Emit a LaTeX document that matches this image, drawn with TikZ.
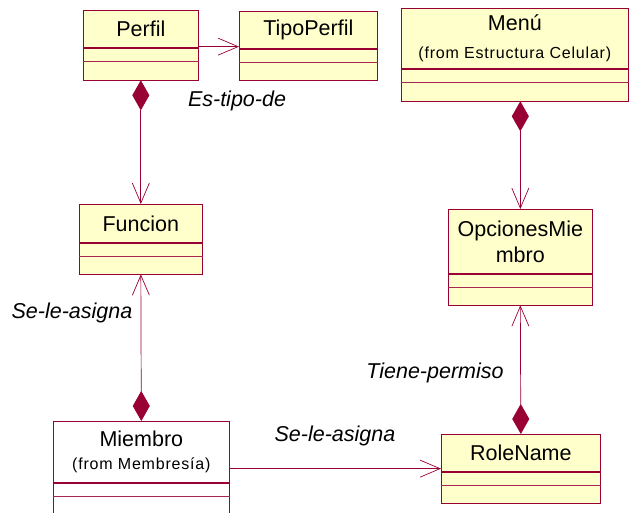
\documentclass[tikz,border=0pt]{standalone}
\usepackage{fontspec}
\setmainfont{Liberation Sans}
\newfontfamily\fromfont[LetterSpace=5]{Liberation Sans}
\usetikzlibrary{arrows.meta,positioning}

\definecolor{rosered}{HTML}{990033}
\definecolor{roseyellow}{HTML}{FFFFCC}

\tikzset{
  classname/.style={draw=rosered, fill=roseyellow, line width=0.65pt, inner sep=0pt,
    align=center, anchor=north west, font=\fontsize{21.5}{26}\selectfont},
  classbody/.style={draw=rosered, fill=roseyellow, line width=0.65pt, inner sep=0pt, anchor=north},
  divider/.style={draw=rosered!85, line width=0.5pt},
  assoc/.style={draw=rosered, line width=0.7pt},
  navig/.style={assoc, -{Straight Barb[length=20pt, width=17pt, line width=0.7pt]}},
  compos/.style={assoc, {Diamond[length=30pt, width=17pt, fill=rosered]}-{Straight Barb[length=20pt, width=17pt, line width=0.7pt]}},
  rolelabel/.style={font=\fontsize{21.5}{26}\selectfont\itshape}
}

\begin{document}
\begin{tikzpicture}[x=1pt, y=-1pt]
  \path[fill=white, use as bounding box] (0,0) rectangle (629,513);

  % Perfil
  \node[classname, minimum width=115pt, minimum height=37pt] (perfil) at (83,10) {Perfil};
  \node[classbody, minimum width=115pt, minimum height=32pt] (perfil-body) at (perfil.south) {};
  \draw[divider] ([yshift=-14pt]perfil-body.north west) -- ([yshift=-14pt]perfil-body.north east);

  % TipoPerfil
  \node[classname, minimum width=138pt, minimum height=37pt] (tipo) at (239,11) {TipoPerfil};
  \node[classbody, minimum width=138pt, minimum height=31pt] (tipo-body) at (tipo.south) {};
  \draw[divider] ([yshift=-14pt]tipo-body.north west) -- ([yshift=-14pt]tipo-body.north east);

  % Menu
  \node[classname, minimum width=227pt, minimum height=60pt] (menu) at (401,8)
    {Menú\\[2pt]{\fromfont\fontsize{16}{19}\selectfont (from Estructura Celular)}};
  \node[classbody, minimum width=227pt, minimum height=32pt] (menu-body) at (menu.south) {};
  \draw[divider] ([yshift=-14pt]menu-body.north west) -- ([yshift=-14pt]menu-body.north east);

  % Funcion
  \node[classname, minimum width=123pt, minimum height=38pt] (funcion) at (79,204) {Funcion};
  \node[classbody, minimum width=123pt, minimum height=31pt] (funcion-body) at (funcion.south) {};
  \draw[divider] ([yshift=-14pt]funcion-body.north west) -- ([yshift=-14pt]funcion-body.north east);

  % OpcionesMiembro
  \node[classname, minimum width=144pt, minimum height=64pt] (opciones) at (448,209) {OpcionesMie\\mbro};
  \node[classbody, minimum width=144pt, minimum height=31pt] (opciones-body) at (opciones.south) {};
  \draw[divider] ([yshift=-14pt]opciones-body.north west) -- ([yshift=-14pt]opciones-body.north east);

  % Miembro
  \node[classname, fill=white, minimum width=176pt, minimum height=61pt] (miembro) at (53,421)
    {Miembro\\[-3pt]{\fromfont\fontsize{16}{19}\selectfont (from Membresía)}};
  \node[classbody, fill=white, minimum width=176pt, minimum height=45pt] (miembro-body) at (miembro.south) {};
  \draw[divider] ([yshift=-14pt]miembro-body.north west) -- ([yshift=-14pt]miembro-body.north east);

  % RoleName
  \node[classname, minimum width=159pt, minimum height=37pt] (role) at (441,434) {RoleName};
  \node[classbody, minimum width=159pt, minimum height=31pt] (role-body) at (role.south) {};
  \draw[divider] ([yshift=-14pt]role-body.north west) -- ([yshift=-14pt]role-body.north east);

  % asociaciones
  \coordinate (perfil-out) at ([yshift=1pt]perfil.south east);
  \coordinate (role-in) at ([yshift=3pt]role.south west);
  \draw[navig] (perfil-out) -- (perfil-out -| tipo.west);
  \draw[compos] (perfil-body.south) -- (funcion.north);
  \draw[compos] (miembro.north) -- (funcion-body.south);
  \draw[compos] (menu-body.south -| opciones.north) -- (opciones.north);
  \draw[compos] (role.north) -- (opciones-body.south);
  \draw[navig] (miembro.east |- role-in) -- (role-in);

  % roles
  \node[rolelabel] (es-tipo)    at (237,101) {Es-tipo-de};
  \node[rolelabel] (asigna-fun) at (72,313)  {Se-le-asigna};
  \node[rolelabel] (permiso)    at (435,373) {Tiene-permiso};
  \node[rolelabel] (asigna-rol) at (335,436) {Se-le-asigna};
\end{tikzpicture}
\end{document}
